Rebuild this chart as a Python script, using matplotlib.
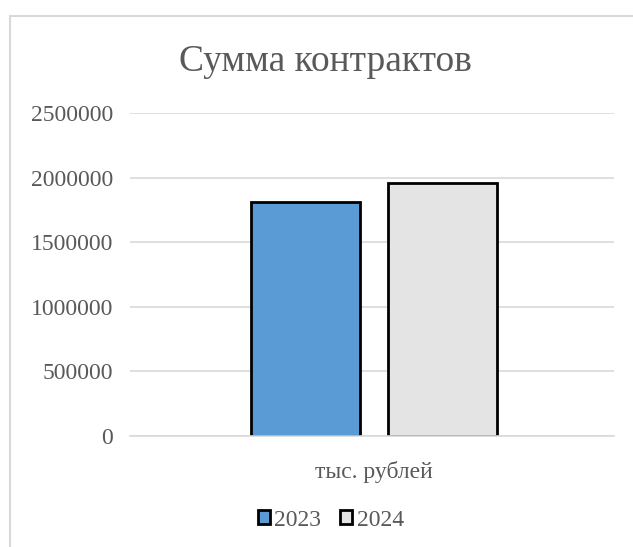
import matplotlib.pyplot as plt
from matplotlib.patches import Rectangle

categories = ["тыс. рублей"]
series_names = ["2023", "2024"]
values_2023 = [1815000]
values_2024 = [1955000]
colors = ["#5B9BD5", "#E4E4E4"]
yticks = [0, 500000, 1000000, 1500000, 2000000, 2500000]

W, H = 633, 547
TEXT = "#595959"


def main():
    plt.rcParams["font.family"] = ["Liberation Serif", "DejaVu Serif"]
    fig = plt.figure(figsize=(W / 100, H / 100), dpi=100)

    # outer chart border (cropped on right and bottom)
    fig.patches.append(Rectangle((10 / W, -0.1), 1.2, 0.1 + (H - 16) / H,
                                 transform=fig.transFigure, fill=False,
                                 edgecolor="#D9D9D9", linewidth=1.5))

    ax = fig.add_axes([130 / W, (H - 436) / H, (614 - 130) / W, (436 - 113) / H])

    ax.set_xlim(-1.008, 0.992)
    bw = 0.45
    off = 0.283
    ax.bar(-off, values_2023, width=bw, color=colors[0], edgecolor="black",
           linewidth=2, label=series_names[0])
    ax.bar(off, values_2024, width=bw, color=colors[1], edgecolor="black",
           linewidth=2, label=series_names[1])

    ax.set_ylim(0, 2500000)
    ax.set_yticks(yticks)
    ax.set_yticklabels([str(v) for v in yticks])
    ax.set_xticks([0])
    ax.set_xticklabels(categories)
    ax.tick_params(axis="both", length=0, labelsize=17, colors=TEXT)
    ax.tick_params(axis="y", pad=12)
    ax.tick_params(axis="x", pad=18)
    ax.grid(axis="y", color="#D9D9D9", linewidth=1.2)
    ax.set_axisbelow(True)
    for s in ["top", "right", "left"]:
        ax.spines[s].set_visible(False)
    ax.spines["bottom"].set_color("#D9D9D9")
    ax.spines["bottom"].set_linewidth(1.2)

    fig.text(325 / W, 1 - 62 / H, "Сумма контрактов", ha="center", va="center",
             fontsize=27, color=TEXT)

    ax.legend(loc="center", bbox_to_anchor=(331 / W, 1 - 520 / H),
              bbox_transform=fig.transFigure, ncol=2, frameon=False,
              fontsize=17, labelcolor=TEXT, handlelength=0.5,
              handleheight=0.5, handletextpad=0.2, columnspacing=0.8,
              borderpad=0)

    fig.savefig("out.png", dpi=100)


if __name__ == "__main__":
    main()
